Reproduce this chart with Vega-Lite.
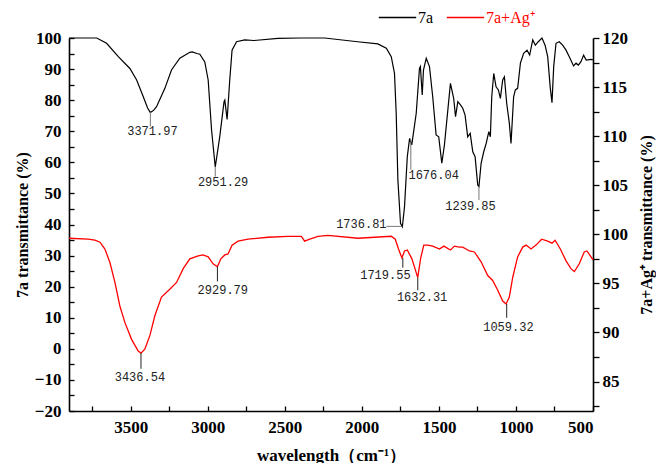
{
  "$schema": "https://vega.github.io/schema/vega-lite/v6.json",
  "width": 524,
  "height": 373,
  "autosize": "none",
  "padding": {"left": 69, "top": 38, "right": 63, "bottom": 52},
  "background": "white",
  "config": {
    "view": {"stroke": null},
    "font": "Liberation Serif",
    "axis": {
      "grid": false,
      "labelFont": "Liberation Serif",
      "labelFontWeight": "bold",
      "labelFontSize": 17,
      "labelColor": "black",
      "titleFont": "Liberation Serif",
      "titleFontWeight": "bold",
      "titleFontSize": 16,
      "titleColor": "black",
      "domainColor": "black",
      "domainWidth": 1.6,
      "tickColor": "black",
      "tickWidth": 1.3,
      "labelOverlap": false
    },
    "legend": {
      "labelFont": "Liberation Serif",
      "labelFontSize": 16,
      "padding": 0,
      "symbolType": "stroke",
      "symbolSize": 1400,
      "symbolStrokeWidth": 1.3,
      "labelOffset": 1
    }
  },
  "datasets": {
    "k": [
      {"wn": 3900, "t": 100}, {"wn": 3720, "t": 100}, {"wn": 3656, "t": 98.3}, {"wn": 3580, "t": 94},
      {"wn": 3505, "t": 90.2}, {"wn": 3461, "t": 86.5}, {"wn": 3418, "t": 81.1}, {"wn": 3390, "t": 77.5},
      {"wn": 3372, "t": 76}, {"wn": 3350, "t": 76.8}, {"wn": 3332, "t": 77.9}, {"wn": 3278, "t": 83.8},
      {"wn": 3235, "t": 89.7}, {"wn": 3181, "t": 93.5}, {"wn": 3116, "t": 95.4}, {"wn": 3100, "t": 95.5},
      {"wn": 3070, "t": 95}, {"wn": 3051, "t": 94.8}, {"wn": 3019, "t": 92.3}, {"wn": 2997, "t": 86.5},
      {"wn": 2975, "t": 70.4}, {"wn": 2951, "t": 58.5}, {"wn": 2922, "t": 68.2}, {"wn": 2894, "t": 79.5},
      {"wn": 2889, "t": 80}, {"wn": 2874, "t": 73.8}, {"wn": 2857, "t": 86.5}, {"wn": 2842, "t": 96.1},
      {"wn": 2813, "t": 98.8}, {"wn": 2760, "t": 99.4}, {"wn": 2700, "t": 99.2}, {"wn": 2544, "t": 99.9},
      {"wn": 2400, "t": 100}, {"wn": 2241, "t": 100}, {"wn": 2027, "t": 98.8}, {"wn": 1896, "t": 98.1},
      {"wn": 1841, "t": 96.7}, {"wn": 1809, "t": 94}, {"wn": 1788, "t": 88.6}, {"wn": 1777, "t": 75.9},
      {"wn": 1766, "t": 54.3}, {"wn": 1749, "t": 40.4}, {"wn": 1737, "t": 39.3}, {"wn": 1723, "t": 45.7},
      {"wn": 1705, "t": 61.8}, {"wn": 1690, "t": 67.7}, {"wn": 1676, "t": 65.6}, {"wn": 1647, "t": 75.8},
      {"wn": 1626, "t": 90.2}, {"wn": 1620, "t": 90.8}, {"wn": 1608, "t": 81.7}, {"wn": 1600, "t": 89.7},
      {"wn": 1582, "t": 93.5}, {"wn": 1561, "t": 90.8}, {"wn": 1540, "t": 81.1}, {"wn": 1518, "t": 68.8},
      {"wn": 1501, "t": 68.2}, {"wn": 1481, "t": 59.7}, {"wn": 1464, "t": 65.6}, {"wn": 1442, "t": 76.8},
      {"wn": 1425, "t": 85.4}, {"wn": 1404, "t": 80.6}, {"wn": 1392, "t": 74.7}, {"wn": 1377, "t": 79.5},
      {"wn": 1360, "t": 78.5}, {"wn": 1345, "t": 77.4}, {"wn": 1330, "t": 75.2}, {"wn": 1313, "t": 68.2},
      {"wn": 1297, "t": 69.3}, {"wn": 1280, "t": 63.4}, {"wn": 1265, "t": 61.8}, {"wn": 1248, "t": 52.7},
      {"wn": 1240, "t": 52.2}, {"wn": 1226, "t": 59.7}, {"wn": 1209, "t": 63.4}, {"wn": 1193, "t": 66.1},
      {"wn": 1176, "t": 69.9}, {"wn": 1166, "t": 68.2}, {"wn": 1157, "t": 81.1}, {"wn": 1144, "t": 88.6},
      {"wn": 1129, "t": 84.3}, {"wn": 1114, "t": 83.3}, {"wn": 1101, "t": 80.6}, {"wn": 1086, "t": 86.5},
      {"wn": 1075, "t": 87.5}, {"wn": 1060, "t": 79}, {"wn": 1043, "t": 72.6}, {"wn": 1032, "t": 66.1},
      {"wn": 1015, "t": 81.1}, {"wn": 1004, "t": 83.3}, {"wn": 989, "t": 83.8}, {"wn": 971, "t": 91.9},
      {"wn": 950, "t": 95.1}, {"wn": 928, "t": 96.1}, {"wn": 911, "t": 94.5}, {"wn": 891, "t": 99.4},
      {"wn": 874, "t": 97.7}, {"wn": 855, "t": 98.8}, {"wn": 831, "t": 100}, {"wn": 811, "t": 97.7},
      {"wn": 794, "t": 94}, {"wn": 777, "t": 83.8}, {"wn": 766, "t": 79.2}, {"wn": 755, "t": 90.8},
      {"wn": 740, "t": 98.3}, {"wn": 719, "t": 98.8}, {"wn": 697, "t": 97.7}, {"wn": 675, "t": 96.1},
      {"wn": 654, "t": 94}, {"wn": 626, "t": 91}, {"wn": 610, "t": 91.9}, {"wn": 595, "t": 91.3},
      {"wn": 578, "t": 92.4}, {"wn": 561, "t": 94.5}, {"wn": 544, "t": 92.9}, {"wn": 513, "t": 93.1},
      {"wn": 500, "t": 93}
    ],
    "r": [
      {"wn": 3900, "t": 99.6}, {"wn": 3775, "t": 99.5}, {"wn": 3732, "t": 99.4}, {"wn": 3699, "t": 99.2},
      {"wn": 3667, "t": 98.5}, {"wn": 3634, "t": 97.1}, {"wn": 3602, "t": 95.1}, {"wn": 3570, "t": 92.7},
      {"wn": 3537, "t": 91}, {"wn": 3494, "t": 89.3}, {"wn": 3451, "t": 88.1}, {"wn": 3433, "t": 87.9},
      {"wn": 3408, "t": 88.3}, {"wn": 3375, "t": 89.7}, {"wn": 3343, "t": 91.7}, {"wn": 3300, "t": 93.6},
      {"wn": 3246, "t": 94.4}, {"wn": 3202, "t": 95.1}, {"wn": 3159, "t": 96.5}, {"wn": 3116, "t": 97.5},
      {"wn": 3062, "t": 97.8}, {"wn": 3030, "t": 97.9}, {"wn": 2997, "t": 97.7}, {"wn": 2965, "t": 97},
      {"wn": 2937, "t": 96.7}, {"wn": 2915, "t": 97.5}, {"wn": 2889, "t": 97.9}, {"wn": 2868, "t": 98},
      {"wn": 2842, "t": 98.9}, {"wn": 2803, "t": 99.3}, {"wn": 2738, "t": 99.5}, {"wn": 2609, "t": 99.7},
      {"wn": 2479, "t": 99.8}, {"wn": 2392, "t": 99.8}, {"wn": 2371, "t": 99.3}, {"wn": 2338, "t": 99.5},
      {"wn": 2284, "t": 99.8}, {"wn": 2220, "t": 99.9}, {"wn": 2025, "t": 99.6}, {"wn": 1809, "t": 99.8},
      {"wn": 1783, "t": 99.5}, {"wn": 1762, "t": 98.5}, {"wn": 1740, "t": 97.6}, {"wn": 1723, "t": 98.3},
      {"wn": 1705, "t": 98.4}, {"wn": 1675, "t": 97.5}, {"wn": 1647, "t": 96.1}, {"wn": 1637, "t": 95.6},
      {"wn": 1619, "t": 97.5}, {"wn": 1598, "t": 98.9}, {"wn": 1572, "t": 98.9}, {"wn": 1540, "t": 98.8},
      {"wn": 1496, "t": 98.5}, {"wn": 1468, "t": 98.8}, {"wn": 1425, "t": 98.4}, {"wn": 1399, "t": 98.8},
      {"wn": 1367, "t": 98.7}, {"wn": 1345, "t": 98.7}, {"wn": 1302, "t": 98.3}, {"wn": 1269, "t": 98.2},
      {"wn": 1226, "t": 97.2}, {"wn": 1183, "t": 95.8}, {"wn": 1151, "t": 95.3}, {"wn": 1118, "t": 94.3},
      {"wn": 1086, "t": 93.2}, {"wn": 1064, "t": 92.9}, {"wn": 1043, "t": 93.6}, {"wn": 1021, "t": 95.6},
      {"wn": 989, "t": 97.7}, {"wn": 956, "t": 98.7}, {"wn": 934, "t": 98.9}, {"wn": 902, "t": 98.5},
      {"wn": 870, "t": 98.9}, {"wn": 833, "t": 99.5}, {"wn": 794, "t": 99.3}, {"wn": 766, "t": 99.1},
      {"wn": 746, "t": 99.4}, {"wn": 712, "t": 98.5}, {"wn": 675, "t": 97.3}, {"wn": 643, "t": 96.5},
      {"wn": 621, "t": 96.2}, {"wn": 589, "t": 97}, {"wn": 557, "t": 98.2}, {"wn": 539, "t": 98.3},
      {"wn": 513, "t": 97.7}, {"wn": 500, "t": 97.4}
    ],
    "kt": [
      {"wn": 3372, "wn2": 3372, "t": 76.2, "t2": 71.5},
      {"wn": 2951, "wn2": 2951, "t": 58.6, "t2": 55.4},
      {"wn": 1841, "wn2": 1737, "t": 39.4, "t2": 39.4},
      {"wn": 1682, "wn2": 1682, "t": 67.2, "t2": 57.6},
      {"wn": 1240, "wn2": 1240, "t": 52.2, "t2": 47.9}
    ],
    "rt": [
      {"wn": 3433, "wn2": 3433, "t": 87.9, "t2": 86.3},
      {"wn": 2937, "wn2": 2937, "t": 96.7, "t2": 95.2},
      {"wn": 1734, "wn2": 1734, "t": 97.6, "t2": 96.6},
      {"wn": 1637, "wn2": 1637, "t": 95.6, "t2": 94.3},
      {"wn": 1060, "wn2": 1060, "t": 92.9, "t2": 91.5}
    ],
    "kl": [
      {"wn": 3359, "t": 70.2, "label": "3371.97"},
      {"wn": 2900, "t": 53.8, "label": "2951.29"},
      {"wn": 2003, "t": 40.1, "label": "1736.81"},
      {"wn": 1534, "t": 55.9, "label": "1676.04"},
      {"wn": 1295, "t": 46, "label": "1239.85"}
    ],
    "rl": [
      {"wn": 3440, "t": 85.5, "label": "3436.54"},
      {"wn": 2902, "t": 94.3, "label": "2929.79"},
      {"wn": 1847, "t": 95.9, "label": "1719.55"},
      {"wn": 1609, "t": 93.6, "label": "1632.31"},
      {"wn": 1049, "t": 90.6, "label": "1059.32"}
    ]
  },
  "layer": [
    {
      "layer": [
        {
          "data": {"name": "k"},
          "mark": {"type": "line", "strokeWidth": 1.2, "interpolate": "linear"},
          "encoding": {
            "x": {
              "field": "wn", "type": "quantitative",
              "scale": {"domain": [500, 3900], "reverse": true, "zero": false, "nice": false},
              "axis": {
                "title": "wavelength（cm⁻¹）",
                "values": [500, 750, 1000, 1250, 1500, 1750, 2000, 2250, 2500, 2750, 3000, 3250, 3500, 3750],
                "tickCount": 100,
                "format": "d",
                "labelExpr": "datum.value % 500 === 0 ? datum.label : ''",
                "tickSize": -5,
                "labelPadding": 13,
                "titlePadding": 12,
                "titleFontSize": 17,
                "labelOverlap": false
              }
            },
            "y": {
              "field": "t", "type": "quantitative",
              "scale": {"domain": [-20, 100], "zero": false, "nice": false},
              "axis": {
                "title": "7a transmittance (%)",
                "orient": "left",
                "values": [-20, -15, -10, -5, 0, 5, 10, 15, 20, 25, 30, 35, 40, 45, 50, 55, 60, 65, 70, 75, 80, 85, 90, 95, 100],
                "tickCount": 100,
                "format": "d",
                "labelExpr": "datum.value % 10 === 0 ? datum.label : ''",
                "tickSize": -5,
                "labelPadding": 13,
                "titlePadding": 4,
                "labelOverlap": false
              }
            },
            "stroke": {
              "datum": "7a", "type": "nominal",
              "scale": {"range": ["black"]},
              "legend": {
                "title": null, "orient": "none", "legendX": 309, "legendY": -40,
                "labelColor": "black"
              }
            }
          }
        },
        {
          "data": {"name": "kt"},
          "mark": {"type": "rule", "color": "#777777", "strokeWidth": 1},
          "encoding": {
            "x": {"field": "wn", "type": "quantitative"},
            "x2": {"field": "wn2"},
            "y": {"field": "t", "type": "quantitative"},
            "y2": {"field": "t2"}
          }
        },
        {
          "data": {"name": "kl"},
          "mark": {"type": "text", "font": "Liberation Mono", "fontSize": 12, "color": "#222222", "baseline": "middle", "align": "center"},
          "encoding": {
            "x": {"field": "wn", "type": "quantitative"},
            "y": {"field": "t", "type": "quantitative"},
            "text": {"field": "label"}
          }
        }
      ]
    },
    {
      "layer": [
        {
          "data": {"name": "r"},
          "mark": {"type": "line", "strokeWidth": 1.3, "interpolate": "linear"},
          "encoding": {
            "x": {"field": "wn", "type": "quantitative"},
            "y": {
              "field": "t", "type": "quantitative",
              "scale": {"domain": [82, 120], "zero": false, "nice": false},
              "axis": {
                "title": "7a+Ag⁺ transmittance (%)",
                "orient": "right",
                "values": [82.5, 85, 87.5, 90, 92.5, 95, 97.5, 100, 102.5, 105, 107.5, 110, 112.5, 115, 117.5, 120],
                "tickCount": 100,
                "format": "d",
                "labelExpr": "datum.value % 5 === 0 ? datum.label : ''",
                "tickSize": 6,
                "labelPadding": 3,
                "titlePadding": 11,
                "titleAngle": 270,
                "titleBaseline": "top",
                "labelOverlap": false
              }
            },
            "stroke": {
              "datum": "7a+Ag⁺", "type": "nominal",
              "scale": {"range": ["#ff0000"]},
              "legend": {
                "title": null, "orient": "none", "legendX": 377, "legendY": -40,
                "labelColor": "#ff0000"
              }
            }
          }
        },
        {
          "data": {"name": "rt"},
          "mark": {"type": "rule", "color": "#222222", "strokeWidth": 1},
          "encoding": {
            "x": {"field": "wn", "type": "quantitative"},
            "x2": {"field": "wn2"},
            "y": {"field": "t", "type": "quantitative"},
            "y2": {"field": "t2"}
          }
        },
        {
          "data": {"name": "rl"},
          "mark": {"type": "text", "font": "Liberation Mono", "fontSize": 12, "color": "#222222", "baseline": "middle", "align": "center"},
          "encoding": {
            "x": {"field": "wn", "type": "quantitative"},
            "y": {"field": "t", "type": "quantitative"},
            "text": {"field": "label"}
          }
        }
      ]
    }
  ],
  "resolve": {
    "scale": {"y": "independent", "stroke": "independent"},
    "legend": {"stroke": "independent"}
  }
}
